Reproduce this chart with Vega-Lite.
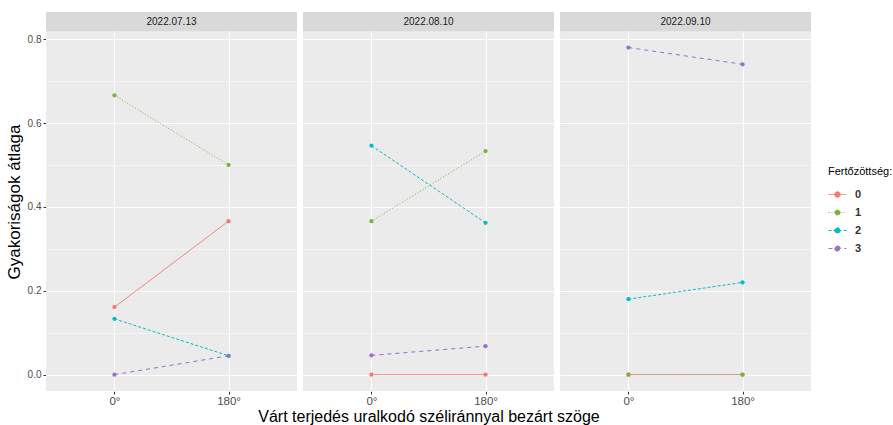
{
  "$schema": "https://vega.github.io/schema/vega-lite/v6.json",
  "padding": {"left": 5, "top": 12, "right": 2, "bottom": 2},
  "background": "white",
  "data": {"values": [
    {"date": "2022.07.13", "angle": "0°", "level": "0", "value": 0.161},
    {"date": "2022.07.13", "angle": "180°", "level": "0", "value": 0.366},
    {"date": "2022.07.13", "angle": "0°", "level": "1", "value": 0.666},
    {"date": "2022.07.13", "angle": "180°", "level": "1", "value": 0.5},
    {"date": "2022.07.13", "angle": "0°", "level": "2", "value": 0.133},
    {"date": "2022.07.13", "angle": "180°", "level": "2", "value": 0.045},
    {"date": "2022.07.13", "angle": "0°", "level": "3", "value": 0.0},
    {"date": "2022.07.13", "angle": "180°", "level": "3", "value": 0.045},
    {"date": "2022.08.10", "angle": "0°", "level": "0", "value": 0.0},
    {"date": "2022.08.10", "angle": "180°", "level": "0", "value": 0.0},
    {"date": "2022.08.10", "angle": "0°", "level": "1", "value": 0.366},
    {"date": "2022.08.10", "angle": "180°", "level": "1", "value": 0.533},
    {"date": "2022.08.10", "angle": "0°", "level": "2", "value": 0.546},
    {"date": "2022.08.10", "angle": "180°", "level": "2", "value": 0.362},
    {"date": "2022.08.10", "angle": "0°", "level": "3", "value": 0.046},
    {"date": "2022.08.10", "angle": "180°", "level": "3", "value": 0.068},
    {"date": "2022.09.10", "angle": "0°", "level": "0", "value": 0.0},
    {"date": "2022.09.10", "angle": "180°", "level": "0", "value": 0.0},
    {"date": "2022.09.10", "angle": "0°", "level": "1", "value": 0.0},
    {"date": "2022.09.10", "angle": "180°", "level": "1", "value": 0.0},
    {"date": "2022.09.10", "angle": "0°", "level": "2", "value": 0.18},
    {"date": "2022.09.10", "angle": "180°", "level": "2", "value": 0.22},
    {"date": "2022.09.10", "angle": "0°", "level": "3", "value": 0.78},
    {"date": "2022.09.10", "angle": "180°", "level": "3", "value": 0.74}
  ]},
  "spacing": 6,
  "facet": {
    "column": {
      "field": "date",
      "type": "nominal",
      "header": {
        "labels": false,
        "title": "Várt terjedés uralkodó széliránnyal bezárt szöge",
        "titleOrient": "bottom",
        "titleFont": "Liberation Sans",
        "titleFontSize": 16,
        "titleFontWeight": "normal",
        "titleColor": "black",
        "titlePadding": -8
      }
    }
  },
  "spec": {
    "width": 251,
    "height": 379,
    "layer": [
      {
        "mark": {"type": "line", "strokeWidth": 1},
        "encoding": {
          "x": {
            "field": "angle", "type": "nominal", "sort": ["0°", "180°"],
            "scale": {"type": "point", "padding": 0.6},
            "axis": {"title": null, "labelAngle": 0, "labelFontSize": 11.5, "labelColor": "#4D4D4D", "labelFont": "Liberation Sans", "tickSize": 3, "tickColor": "#333333", "labelPadding": 1, "domain": false, "grid": true, "gridColor": "white", "gridWidth": 1.1}
          },
          "y": {
            "field": "value", "type": "quantitative",
            "scale": {"domain": [-0.039, 0.8647], "nice": false, "zero": false},
            "axis": {
              "title": "Gyakoriságok átlaga",
              "titleFont": "Liberation Sans", "titleFontSize": 17, "titleFontWeight": "normal", "titleColor": "black", "titlePadding": 4,
              "values": [0, 0.1, 0.2, 0.3, 0.4, 0.5, 0.6, 0.7, 0.8],
              "labelExpr": "round(datum.value*10)%2==1 ? '' : format(datum.value, '.1f')",
              "labelFont": "Liberation Sans", "labelFontSize": 10, "labelColor": "#4D4D4D", "labelPadding": 2,
              "tickSize": 3, "tickColor": "#333333",
              "tickOpacity": {"condition": {"test": "round(datum.value*10)%2==1", "value": 0}, "value": 1},
              "domain": false, "grid": true, "gridColor": "white",
              "gridWidth": {"condition": {"test": "round(datum.value*10)%2==1", "value": 0.5}, "value": 1.1}
            }
          },
          "color": {
            "field": "level", "type": "nominal",
            "scale": {"domain": ["0", "1", "2", "3"], "range": ["#F8766D", "#7BB33A", "#00BFC4", "#9A70C8"]},
            "legend": {
              "title": "Fertőzöttség:", "orient": "none", "legendX": 782, "legendY": 154,
              "titleFont": "Liberation Sans", "titleFontSize": 11, "titleFontWeight": "normal", "titleColor": "black", "titlePadding": 8,
              "labelFont": "Liberation Sans", "labelFontSize": 11, "labelFontWeight": "bold", "labelColor": "#333333", "labelOffset": 8,
              "symbolType": "M-1,0H1M-0.3,0a0.3,0.3 0 1,0 0.6,0a0.3,0.3 0 1,0 -0.6,0",
              "symbolSize": 324, "symbolStrokeWidth": 1, "rowPadding": 3
            }
          },
          "strokeDash": {
            "field": "level", "type": "nominal",
            "scale": {"domain": ["0", "1", "2", "3"], "range": [[1, 0], [1, 2], [3, 2], [4, 4]]},
            "legend": {
              "title": "Fertőzöttség:", "orient": "none", "legendX": 782, "legendY": 154
            }
          }
        }
      },
      {
        "mark": {"type": "point", "filled": true, "size": 18, "opacity": 1},
        "encoding": {
          "x": {"field": "angle", "type": "nominal", "sort": ["0°", "180°"]},
          "y": {"field": "value", "type": "quantitative"},
          "color": {"field": "level", "type": "nominal"}
        }
      },
      {
        "transform": [{"aggregate": [{"op": "count", "as": "n"}], "groupby": ["date"]}],
        "mark": {"type": "rect", "color": "#D9D9D9", "opacity": 1},
        "encoding": {
          "y": {"datum": 0.819, "type": "quantitative"},
          "y2": {"datum": 0.8647}
        }
      },
      {
        "transform": [{"aggregate": [{"op": "count", "as": "n"}], "groupby": ["date"]}],
        "mark": {"type": "text", "font": "Liberation Sans", "fontSize": 10, "color": "#1A1A1A", "baseline": "middle", "align": "center"},
        "encoding": {
          "y": {"datum": 0.8415, "type": "quantitative"},
          "text": {"field": "date", "type": "nominal"}
        }
      }
    ]
  },
  "config": {
    "view": {"fill": "#EBEBEB", "stroke": null}
  }
}
